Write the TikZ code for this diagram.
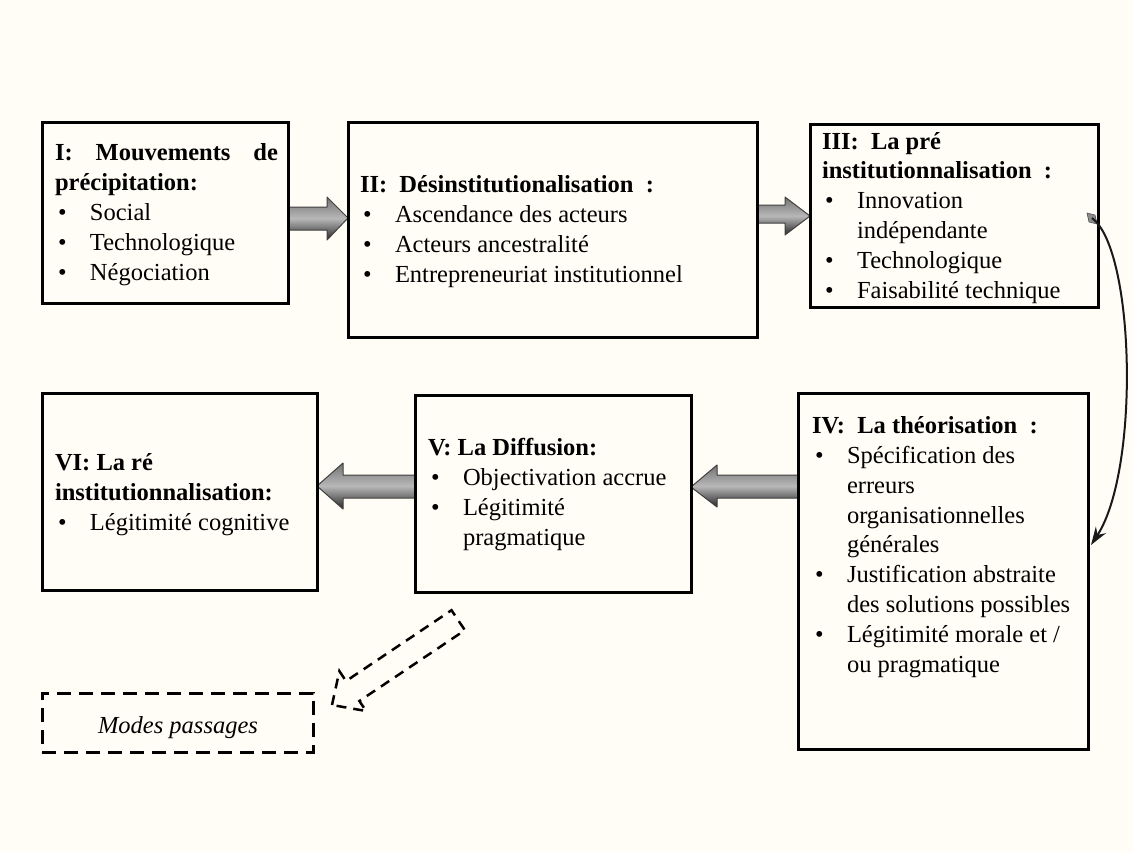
\documentclass[tikz,border=0pt]{standalone}
\usepackage{fontspec}
\setmainfont{Liberation Serif}
\usetikzlibrary{calc,arrows.meta}
\definecolor{bg}{RGB}{255,253,245}
\newcommand\bul[1]{\makebox[35pt][l]{\hspace{3pt}\textbullet}#1}
\newcommand\cont[1]{\hspace*{35pt}#1}
\tikzset{
  box/.style={draw=black, line width=3pt, rectangle, inner sep=0pt, outer sep=0pt},
  txt/.style={anchor=base west, inner sep=0pt, outer sep=0pt, align=left, font=\fontsize{24.5}{29.8}\selectfont},
  garrow/.style={draw=black!75, line width=1pt, line join=round, top color=black!55, bottom color=black!85, middle color=black!28},
  dbox/.style={draw=black, line width=3pt, dash pattern=on 14pt off 8pt, rectangle, inner sep=0pt, outer sep=0pt},
  darrow/.style={draw=black, line width=2.5pt, dash pattern=on 10pt off 7pt, line join=miter},
  curv/.style={draw=black!90, line width=2pt, -{Stealth[length=18pt,width=12pt]}}
}
\begin{document}
\begin{tikzpicture}[x=1pt,y=-1pt]
\useasboundingbox (0,0) rectangle (1133,852);
\fill[bg] (0,0) rectangle (1133,852);

% boxes
\node[box, minimum width=246pt, minimum height=181pt] (b1) at (165,212.5) {};
\node[box, minimum width=409pt, minimum height=215pt] (b2) at (552.5,229.5) {};
\node[box, minimum width=288pt, minimum height=183pt] (b3) at (954,215.5) {};
\node[box, minimum width=290pt, minimum height=356pt] (b4) at (943,571) {};
\node[box, minimum width=276pt, minimum height=197pt] (b5) at (553,493.5) {};
\node[box, minimum width=275pt, minimum height=197pt] (b6) at (179.5,491.5) {};
\node[dbox, minimum width=271pt, minimum height=59pt] (bd) at (177.5,722.5) {};

% block arrows
\path[garrow] (b1.east|-0,207) -- (327,207) -- (327,197) -- (b2.west|-0,218) -- (327,240) -- (327,230) -- (b1.east|-0,230) -- cycle;
\path[garrow] (b2.east|-0,205) -- (785,205) -- (785,197) -- (b3.west|-0,216) -- (785,235) -- (785,223) -- (b2.east|-0,223) -- cycle;
\path[garrow] (b4.west|-0,475) -- (717,475) -- (717,465) -- (b5.east|-0,487) -- (717,507) -- (717,498) -- (b4.west|-0,498) -- cycle;
\path[garrow] (b5.west|-0,475) -- (343,475) -- (343,463) -- (b6.east|-0,486) -- (343,509) -- (343,498) -- (b5.west|-0,498) -- cycle;

% redraw box borders on top
\draw[line width=3pt] (b1.north west) rectangle (b1.south east);
\draw[line width=3pt] (b2.north west) rectangle (b2.south east);
\draw[line width=3pt] (b3.north west) rectangle (b3.south east);
\draw[line width=3pt] (b4.north west) rectangle (b4.south east);
\draw[line width=3pt] (b5.north west) rectangle (b5.south east);
\draw[line width=3pt] (b6.north west) rectangle (b6.south east);

% curved connector III -> IV
\coordinate (c3) at ($(b3.east)+(-6,2.5)$);
\coordinate (c4) at ($(b4.east)+(3,-26)$);
\fill[black!45, draw=black!70, line width=0.6pt] (1087,213) -- (1095,215) -- (1097,224) -- (1089,222) -- cycle;
\draw[curv] (c3) .. controls (1135,250) and (1140,470) .. (c4);

% dashed hollow arrow
\path[darrow] (332,705) -- (339.4,671.1) -- (346.0,681.1) -- (451.5,610.2) -- (464.9,630.2) -- (359.4,701.0) -- (366.1,711.0) -- cycle;

% texts (anchored at the baseline of their last line)
\node[txt] (t1) at (55,280) {\makebox[223pt][l]{\bfseries I:\hfill Mouvements\hfill de}\\
  \textbf{précipitation:}\\
  \bul{Social}\\
  \bul{Technologique}\\
  \bul{Négociation}};
\node[txt] (t2) at (360,282) {\textbf{II:\ \ Désinstitutionalisation\ \ :}\\
  \bul{Ascendance des acteurs}\\
  \bul{Acteurs ancestralité}\\
  \bul{Entrepreneuriat institutionnel}};
\node[txt] (t3) at (822,298) {\textbf{III:\ \ La pré}\\
  \textbf{institutionnalisation\ \ :}\\
  \bul{Innovation}\\
  \cont{indépendante}\\
  \bul{Technologique}\\
  \bul{Faisabilité technique}};
\node[txt] (t4) at (812,672) {\textbf{IV:\ \ La théorisation\ \ :}\\
  \bul{Spécification des}\\
  \cont{erreurs}\\
  \cont{organisationnelles}\\
  \cont{générales}\\
  \bul{Justification abstraite}\\
  \cont{des solutions possibles}\\
  \bul{Légitimité morale et /}\\
  \cont{ou pragmatique}};
\node[txt] (t5) at (428,545) {\textbf{V: La Diffusion:}\\
  \bul{Objectivation accrue}\\
  \bul{Légitimité}\\
  \cont{pragmatique}};
\node[txt] (t6) at (55,530) {\textbf{VI: La ré}\\
  \textbf{institutionnalisation:}\\
  \bul{Légitimité cognitive}};
\node[anchor=base, inner sep=0pt, font=\fontsize{24.5}{29.8}\selectfont\itshape] (td) at (178,733) {Modes passages};
\end{tikzpicture}
\end{document}
